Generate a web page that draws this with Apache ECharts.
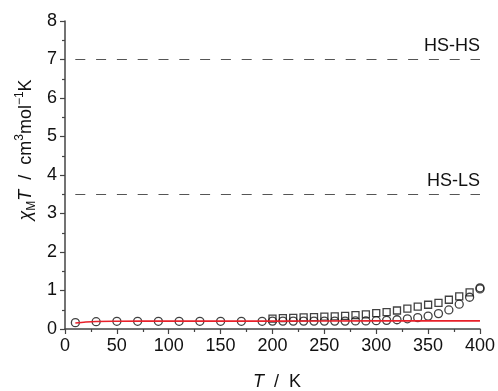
<!DOCTYPE html>
<html>
<head>
<meta charset="utf-8">
<script src="https://cdn.jsdelivr.net/npm/echarts@6/dist/echarts.min.js"></script>
<style>
  html, body { margin: 0; padding: 0; background: #fff; }
  #chart { width: 498px; height: 391px; }
</style>
</head>
<body>
<div id="chart"></div>
<script>
// open circles
const circleT = [10, 30, 50, 70, 90, 110, 130, 150, 170, 190,
  200, 210, 220, 230, 240, 250, 260, 270, 280, 290, 300,
  310, 320, 330, 340, 350, 360, 370, 380, 390, 400, 400];
const circleChi = [0.165, 0.19, 0.2, 0.2, 0.2, 0.2, 0.2, 0.2, 0.2, 0.2,
  0.205, 0.205, 0.205, 0.205, 0.205, 0.205, 0.205, 0.205, 0.21, 0.21, 0.215,
  0.225, 0.24, 0.265, 0.295, 0.335, 0.40, 0.495, 0.645, 0.825, 1.04, 1.07];

// open squares
const squareT = [200, 210, 220, 230, 240, 250, 260, 270, 280, 290,
  300, 310, 320, 330, 340, 350, 360, 370, 380, 390];
const squareChi = [0.27, 0.28, 0.29, 0.30, 0.31, 0.32, 0.33, 0.34, 0.36, 0.38,
  0.41, 0.44, 0.48, 0.53, 0.58, 0.63, 0.68, 0.76, 0.85, 0.95];

// red fit
const fitT = [10, 20, 30, 50, 100, 200, 300, 400];
const fitChi = [0.155, 0.18, 0.195, 0.2, 0.205, 0.205, 0.21, 0.21];

// reference levels
const levelValues = [7, 3.5];
const levelNames = ["HS-HS", "HS-LS"];

const font = "Liberation Sans, Arial, Helvetica, sans-serif";

const chart = echarts.init(document.getElementById("chart"));
chart.setOption({
  animation: false,
  backgroundColor: "#fff",
  grid: { left: 65, right: 17, top: 21, bottom: 62 },
  xAxis: {
    type: "value",
    min: 0, max: 400, interval: 50,
    axisLine: { show: true, lineStyle: { color: "#444", width: 1.5 } },
    axisTick: { show: true, length: 5, lineStyle: { color: "#444", width: 1.2 } },
    minorTick: { show: true, splitNumber: 2, length: 3, lineStyle: { color: "#444", width: 1.2 } },
    splitLine: { show: false },
    axisLabel: { color: "#111", fontSize: 18, fontFamily: font, margin: 8 }
  },
  yAxis: {
    type: "value",
    min: 0, max: 8, interval: 1,
    axisLine: { show: true, lineStyle: { color: "#444", width: 1.5 } },
    axisTick: { show: true, length: 5, lineStyle: { color: "#444", width: 1.2 } },
    minorTick: { show: true, splitNumber: 2, length: 3, lineStyle: { color: "#444", width: 1.2 } },
    splitLine: { show: false },
    axisLabel: { color: "#111", fontSize: 18, fontFamily: font, margin: 8 }
  },
  graphic: [
    {
      type: "text",
      x: 277, y: 382,
      style: {
        text: "{i|T}  /  K",
        align: "center", verticalAlign: "middle",
        font: "18px " + font, fill: "#111",
        rich: { i: { fontStyle: "italic", fontSize: 18, fontFamily: font } }
      }
    },
    {
      type: "text",
      x: 26, y: 150,
      rotation: Math.PI / 2,
      style: {
        text: "{g|χ}{sub|M}{i|T}  /  cm{sup|3}mol{sup|−1}K",
        align: "center", verticalAlign: "middle",
        font: "18px " + font, fill: "#111",
        rich: {
          g: { fontStyle: "italic", fontSize: 18, fontFamily: font, lineHeight: 24, verticalAlign: "middle" },
          i: { fontStyle: "italic", fontSize: 18, fontFamily: font, lineHeight: 24 },
          sub: { fontSize: 12, fontFamily: font, verticalAlign: "bottom", lineHeight: 24 },
          sup: { fontSize: 12, fontFamily: font, verticalAlign: "top", lineHeight: 24 }
        }
      }
    }
  ],
  series: [
    {
      type: "line",
      data: [[0, 0]],
      symbol: "none",
      lineStyle: { opacity: 0 },
      silent: true,
      markLine: {
        silent: true,
        symbol: "none",
        lineStyle: { color: "#555", width: 1, type: [10, 10.8], dashOffset: 10.5 },
        label: {
          position: "insideEndTop", distance: [0, 4],
          color: "#111", fontSize: 18, fontFamily: font,
          formatter: p => p.name
        },
        data: levelValues.map((v, i) => ({ yAxis: v, name: levelNames[i] }))
      }
    },
    {
      type: "scatter",
      data: squareT.map((t, i) => [t, squareChi[i]]),
      symbol: "rect",
      symbolSize: 7,
      itemStyle: { color: "rgba(0,0,0,0)", borderColor: "#111", borderWidth: 1.3 }
    },
    {
      type: "scatter",
      data: circleT.map((t, i) => [t, circleChi[i]]),
      symbol: "circle",
      symbolSize: 8,
      itemStyle: { color: "rgba(0,0,0,0)", borderColor: "#111", borderWidth: 1.3 }
    },
    {
      type: "line",
      data: fitT.map((t, i) => [t, fitChi[i]]),
      symbol: "none",
      smooth: 0.3,
      lineStyle: { color: "#e8202a", width: 1.6 },
      z: 5
    }
  ]
});
</script>
</body>
</html>
